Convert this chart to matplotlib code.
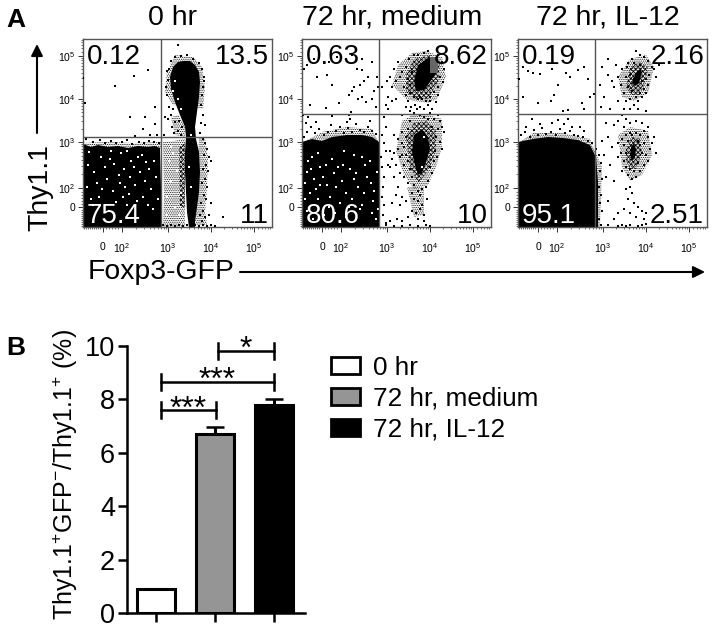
from matplotlib import pyplot as plt
from matplotlib.patches import Polygon, Rectangle, Patch
import numpy as np

plt.rcParams['font.family'] = ['Liberation Sans', 'DejaVu Sans']
plt.rcParams['mathtext.fontset'] = 'custom'
plt.rcParams['mathtext.rm'] = 'Liberation Sans'
plt.rcParams['mathtext.default'] = 'regular'
plt.rcParams['hatch.linewidth'] = 0.5

W, H = 714, 628

# flow plots, values are display channels
titles = ["0 hr", "72 hr, medium", "72 hr, IL-12"]
tick_channels = [20, 39, 85, 128, 171]
tick_names = ["0", "$10^{2}$", "$10^{3}$", "$10^{4}$", "$10^{5}$"]
gate_x = [78, 77, 77]
gate_y = [90, 113, 113]

pct_ul = ["0.12", "0.63", "0.19"]
pct_ur = ["13.5", "8.62", "2.16"]
pct_ll = ["75.4", "80.6", "95.1"]
pct_lr = ["11", "10", "2.51"]

# black cores
dense_0 = [
    [(0,0),(0,83),(8,80),(15,82),(25,80),(35,81),(45,79),(55,81),(65,80),(72,81),(77,79),(78,40),(78,0)],
    [(100,166),(107,166),(112,162),(116,155),(117,145),(116,130),(114,115),(112,100),(113,88),(116,75),(117,55),
     (116,35),(114,20),(112,5),(112,0),(106,0),(104,15),(103,35),(102,55),(102,75),(103,90),(102,100),(97,112),
     (92,125),(88,138),(87,150),(90,160),(95,165)],
]
dense_1 = [
    [(0,0),(0,85),(10,88),(20,86),(30,90),(45,92),(60,92),(70,90),(77,85),(78,50),(78,0)],
    [(112,146),(116,162),(128,170),(136,168),(135,155),(128,145),(122,137),(114,136)],
    [(112,92),(120,98),(126,90),(128,78),(124,65),(120,54),(116,52),(113,62),(110,75)],
]
dense_2 = [
    [(0,0),(0,85),(15,88),(30,90),(45,89),(60,87),(72,82),(78,70),(80,45),(80,0)],
    [(114,144),(117,141),(121,144),(124,155),(122,158),(118,154)],
    [(113,80),(116,84),(118,78),(117,70),(114,66),(112,72)],
]

# heavy crosshatched regions around the cores
heavy_0 = [
    [(96,80),(102,84),(102,20),(97,20)],
]
heavy_1 = [
    [(104,135),(114,128),(126,128),(136,145),(138,165),(128,172),(112,168),(104,152)],
    [(104,90),(112,104),(124,106),(134,96),(134,76),(126,56),(116,44),(108,60)],
]
heavy_2 = [
    [(108,140),(114,132),(122,132),(128,148),(130,160),(122,165),(112,160)],
    [(108,78),(114,90),(122,88),(124,74),(118,58),(112,58),(108,66)],
]

# stippled, less crowded regions
mid_0 = [
    [(80,85),(90,86),(102,88),(102,0),(80,0),(81,30)],
    [(116,90),(122,88),(125,70),(124,40),(122,15),(124,2),(112,2),(114,40)],
    [(96,112),(102,100),(102,90),(92,92),(88,110)],
    [(112,120),(120,118),(122,140),(119,160),(110,170),(92,172),(84,156),(82,135),(90,122)],
    [(0,84),(25,85),(50,84),(78,85),(78,78),(0,78)],
]
mid_1 = [
    [(104,128),(112,126),(126,124),(135,128),(144,150),(140,170),(124,176),(110,174),(96,162),(90,142)],
    [(100,106),(110,112),(126,112),(140,108),(140,80),(134,60),(126,42),(112,38),(102,52),(94,76)],
    [(0,84),(20,95),(45,100),(70,98),(77,84)],
    [(105,40),(122,40),(122,12),(112,10)],
]
mid_2 = [
    [(104,130),(116,126),(130,134),(136,160),(128,172),(112,168),(100,150)],
    [(100,92),(112,100),(130,96),(134,72),(124,52),(112,46),(104,60)],
    [(0,84),(15,94),(45,94),(72,88),(84,60),(82,0),(78,0),(78,70)],
]

dots_0 = [(95,182),(32,141),(51,151),(65,157),(0,149),(2,124),(72,120),(62,110),(47,110),(60,98),(72,103),(52,91),
    (74,92),(67,92),(3,88),(10,85),(17,87),(22,84),(28,86),(33,84),(39,85),(44,87),(49,83),(56,85),(61,84),(66,86),
    (71,85),(76,84),(81,92),(82,110),(83,140),(84,156),(85,147),(84,132),(86,120),(88,112),(90,118),(85,108),(89,100),
    (92,105),(95,96),(91,94),(96,106),(98,92),(99,100),(86,158),(88,166),(92,170),(98,171),(104,172),(110,168),
    (116,164),(119,158),(121,150),(120,140),(119,132),(121,146),(118,122),(120,112),(118,104),(122,102),(117,94),
    (120,88),(122,84),(124,78),(126,70),(121,72),(123,62),(125,56),(128,66),(120,58),(122,48),(124,40),(119,44),
    (121,32),(123,28),(118,24),(120,16),(122,10),(117,12),(119,6),(128,24),(126,12),(140,10),(80,2),(84,1),(88,2),(92,1),
    (96,2),(100,1),(104,2),(108,1),(112,2),(116,1),(120,2),(124,1),(128,2),(132,1)]
specks_0 = [(48,66),(52,42),(22,60),(36,52),(14,44),(60,30),(44,22),(30,36),(66,58),(55,70),(38,74),(18,70),
    (8,28),(26,16),(70,18),(62,46),(42,40),(90,136),(95,128),(92,146),(98,118),(108,92),(106,60),(108,40),
    (5,62),(11,55),(19,38),(27,68),(33,25),(41,58),(46,33),(57,55),(63,65),(68,38),(73,50),(4,40),(10,22),(24,48),
    (31,63),(37,44),(47,50),(54,26),(59,72),(65,22),(71,66),(16,30),(6,75),(28,76),(44,76),(51,60),(75,28),(40,30),
    (84,30),(88,46),(92,20),(86,66),(94,56),(90,74),(98,34),(84,12),(96,12),(88,80)]

dots_1 = [(2,90),(5,95),(9,100),(4,104),(13,94),(17,98),(22,92),(26,95),(29,102),(34,96),(38,100),(42,94),(46,99),(50,95),
    (54,103),(58,97),(62,95),(66,100),(70,96),(74,93),(68,106),(48,108),(45,105),(6,110),(14,105),(1,112),(30,111),(47,112),
    (49,115),(24,119),(8,122),(37,124),(60,130),(56,128),(64,125),(70,128),(74,120),(72,136),(76,140),(50,136),(52,140),
    (47,132),(30,142),(55,158),(60,157),(66,150),(70,165),(60,168),(50,172),(44,168),(35,170),(27,165),(15,150),(25,152),(12,168),
    (5,162),(2,158),(62,146),(58,142),(75,150),(82,110),(84,122),(86,130),(90,140),(88,150),(92,158),(96,165),(85,146),(80,140),
    (94,146),(98,150),(102,140),(100,155),(104,160),(106,148),(108,142),(110,155),(107,168),(112,172),(116,172),(122,174),
    (126,176),(136,172),(140,165),(142,158),(138,150),(141,145),(136,140),(132,135),(128,130),(124,126),(120,128),(116,128),
    (112,130),(108,134),(104,132),(113,122),(118,120),(122,118),(126,122),(130,118),(134,125),(128,114),(112,114),(108,116),
    (104,120),(100,112),(118,112),(122,110),(136,112),(132,108),(138,106),(140,100),(142,95),(136,98),(134,90),(138,85),(140,78),
    (133,76),(135,70),(132,66),(128,60),(130,54),(126,46),(124,40),(120,38),(116,36),(112,42),(110,50),(108,58),(106,66),(104,72),
    (102,80),(100,84),(96,78),(92,74),(88,76),(90,68),(86,62),(94,62),(98,70),(104,90),(106,98),(108,106),(100,95),(102,62),(80,92),
    (82,84),(84,76),(79,70),(80,60),(82,50),(81,40),(80,30),(82,22),(81,12),(84,100),(88,60),(92,50),(96,40),(100,30),(104,26),
    (94,32),(98,22),(90,24),(112,28),(116,26),(118,18),(114,14),(120,22),(122,12),(110,16),(106,10),(100,6),(95,8),(88,6),(84,4),
    (116,8),(122,6),(125,28),(118,32),(110,34),(106,44),(102,50),(98,54),(92,92),(96,88),(100,72),(109,120),(126,108),(130,100),
    (115,118),(106,126),(94,128),(90,126),(86,118),(118,130),(124,134),(128,126),(136,132),(84,2),(92,1),(100,1),(108,2),(116,1),(124,2),(128,1)]
specks_1 = [(5,55),(12,48),(18,60),(25,42),(32,54),(40,46),(48,58),(56,40),(65,50),(72,36),(8,34),(16,28),(28,30),(38,24),
    (50,28),(60,22),(70,14),(5,16),(22,12),(44,10),(74,8),(10,70),(30,68),(52,72),(68,66),(120,60),(122,90),
    (3,44),(9,58),(14,38),(21,50),(27,20),(34,40),(36,60),(44,34),(52,48),(58,18),(62,34),(69,44),(75,55),(3,28),
    (11,8),(18,42),(24,62),(33,14),(41,62),(47,20),(54,54),(63,62),(71,26),(76,18),(6,66),(16,74),(42,76),(60,70)]

dots_2 = [(3,92),(7,95),(12,90),(16,97),(20,92),(24,99),(28,93),(33,95),(38,92),(42,98),(47,94),(52,96),(56,92),(60,91),(65,90),
    (70,86),(74,84),(78,78),(81,72),(83,64),(82,56),(84,48),(81,40),(83,32),(82,24),(84,16),(81,8),(83,2),(14,108),(22,103),(34,104),
    (40,107),(46,103),(50,108),(54,100),(8,100),(4,84),(62,100),(66,96),(1,148),(5,160),(10,156),(15,154),(22,153),(34,158),(40,142),
    (36,132),(33,126),(5,130),(20,124),(48,154),(52,150),(60,157),(66,160),(70,148),(72,130),(64,124),(66,118),(45,116),(50,117),
    (76,133),(84,160),(82,142),(86,130),(83,120),(90,168),(98,162),(94,146),(100,150),(104,158),(103,142),(106,134),(108,150),
    (109,160),(110,140),(112,128),(108,126),(106,118),(112,118),(116,122),(120,126),(124,130),(128,134),(130,142),(131,152),(134,160),
    (130,166),(126,170),(122,172),(118,176),(114,168),(110,164),(112,152),(114,136),(118,130),(122,134),(126,138),(128,148),(116,148),
    (120,150),(122,162),(116,164),(124,146),(120,118),(128,116),(138,150),(141,162),(136,158),(90,152),(96,140),(100,126),(104,112),
    (108,108),(92,118),(88,104),(96,102),(100,106),(106,100),(112,104),(118,106),(124,104),(130,100),(126,96),(122,92),(118,94),(112,94),
    (108,92),(104,88),(100,84),(106,82),(103,74),(100,70),(106,66),(108,60),(104,56),(110,52),(114,48),(118,50),(122,56),(126,62),(130,66),
    (128,72),(132,78),(134,84),(136,90),(130,90),(126,84),(122,82),(124,74),(120,64),(116,56),(112,58),(108,74),(110,86),(114,92),(120,86),
    (90,90),(86,72),(92,62),(88,50),(96,46),(112,40),(108,38),(114,34),(110,28),(116,24),(106,18),(120,20),(124,16),(128,14),(112,14),
    (118,10),(126,8),(100,14),(96,8),(90,2),(100,1),(104,2),(108,1),(112,2),(120,1),(124,2),(128,3),(90,26),(84,86),(94,80),(138,74)]
specks_2 = []

panel_dense = [dense_0, dense_1, dense_2]
panel_heavy = [heavy_0, heavy_1, heavy_2]
panel_mid = [mid_0, mid_1, mid_2]
panel_dots = [dots_0, dots_1, dots_2]
panel_specks = [specks_0, specks_1, specks_2]
panel_left = [83, 302, 518]

# bar plot values
groups = ["0 hr", "72 hr, medium", "72 hr, IL-12"]
means = [0.91, 6.72, 7.78]
errs = [0.0, 0.25, 0.22]
bar_colors = ["white", "#959595", "black"]
brackets = [(0.08, 1.02, 7.6, "***"), (0.08, 2.0, 8.67, "***"), (1.05, 2.0, 9.83, "*")]


def axes_px(fig, left, top, right, bottom):
    return fig.add_axes([left / W, 1 - bottom / H, (right - left) / W, (bottom - top) / H])


def minor_channels():
    decades = np.array([2, 3, 4, 5])
    pos = np.array([39, 85, 128, 171])
    out = []
    for d in decades[:-1]:
        for k in range(2, 10):
            out.append(np.interp(d + np.log10(k), decades, pos))
    out += [175, 179, 182, 185, 187]
    out += [1, 3, 5, 7, 9, 11, 13, 15, 17, 23, 26, 29, 32, 35]
    return out


fig = plt.figure(figsize=(W / 100, H / 100), dpi=100)

for i in range(3):
    ax = axes_px(fig, panel_left[i], 39, panel_left[i] + 189, 227)
    ax.set_xlim(0, 189)
    ax.set_ylim(0, 188)
    for poly in panel_mid[i]:
        ax.add_patch(Polygon(poly, closed=True, fc="none", ec="black", hatch="." * 9, lw=0, zorder=1))
    for poly in panel_heavy[i]:
        ax.add_patch(Polygon(poly, closed=True, fc="none", ec="black", hatch="x" * 7, lw=0, zorder=1.5))
    for poly in panel_dense[i]:
        ax.add_patch(Polygon(poly, closed=True, fc="black", ec="none", zorder=2))
    if i == 1:
        ax.add_patch(Rectangle((128, 154), 8, 16, fc="#666666", ec="none", zorder=2.6))
    d = np.array(panel_dots[i])
    ax.scatter(d[:, 0], d[:, 1], s=1.6, c="black", marker="s", linewidths=0, zorder=3)
    if panel_specks[i]:
        s = np.array(panel_specks[i])
        ax.scatter(s[:, 0], s[:, 1], s=2.0, c="white", marker="s", linewidths=0, zorder=3)
    ax.axvline(gate_x[i], color="#555555", lw=1, zorder=4)
    ax.axhline(gate_y[i], color="#555555", lw=1, zorder=4)
    for sp in ax.spines.values():
        sp.set_color("#555555")
        sp.set_linewidth(1)
    ax.set_xticks(tick_channels)
    ax.set_xticklabels(tick_names)
    ax.set_yticks(tick_channels)
    ax.set_yticklabels(tick_names)
    ax.set_xticks(minor_channels(), minor=True)
    ax.set_yticks(minor_channels(), minor=True)
    ax.tick_params(which="major", length=3.5, width=0.7, labelsize=7.5, color="#333333", pad=2)
    ax.tick_params(axis="x", which="major", pad=7)
    ax.tick_params(which="minor", length=1.7, width=0.5, color="#333333")
    ax.text(4, 170, pct_ul[i], fontsize=20, va="center", ha="left", zorder=5)
    ax.text(186, 170, pct_ur[i], fontsize=20, va="center", ha="right", zorder=5)
    ax.text(4, 11, pct_ll[i], fontsize=20, va="center", ha="left", color="white", zorder=5)
    ax.text(186, 11, pct_lr[i], fontsize=20, va="center", ha="right", zorder=5)
    fig.text((panel_left[i] + 90) / W, 1 - 18 / H, titles[i], fontsize=20.5, ha="center", va="center")

fig.text(6 / W, 1 - 20 / H, "A", fontsize=19, fontweight="bold", va="center")
fig.text(6 / W, 1 - 348 / H, "B", fontsize=19, fontweight="bold", va="center")
fig.text(40 / W, 1 - 188 / H, "Thy1.1", fontsize=20.5, rotation=90, ha="center", va="center")
fig.text(88 / W, 1 - 272 / H, "Foxp3-GFP", fontsize=20.4, ha="left", va="center")

arrow_ax = fig.add_axes([0, 0, 1, 1])
arrow_ax.set_axis_off()
arrow_ax.set_xlim(0, W)
arrow_ax.set_ylim(H, 0)
arrow_ax.annotate("", xy=(37, 44), xytext=(37, 133),
                  arrowprops=dict(arrowstyle="-|>,head_length=0.7,head_width=0.35", lw=1.5, color="black", shrinkA=0, shrinkB=0))
arrow_ax.annotate("", xy=(705, 272), xytext=(240, 272),
                  arrowprops=dict(arrowstyle="-|>,head_length=0.7,head_width=0.35", lw=1.5, color="black", shrinkA=0, shrinkB=0))

# panel B
bx = axes_px(fig, 127, 346, 305, 613)
x = np.arange(3)
bx.bar(x, means, width=0.64, color=bar_colors, edgecolor="black", linewidth=2.2, zorder=2)
bx.errorbar(x[1:], means[1:], yerr=[[0, 0], errs[1:]], fmt="none", ecolor="black", elinewidth=2.2, capsize=6.5, capthick=1.8, zorder=1)
bx.set_xlim(-0.49, 2.53)
bx.set_ylim(0, 10)
bx.set_yticks([0, 2, 4, 6, 8, 10])
bx.set_xticks(x)
bx.set_xticklabels([])
bx.spines["top"].set_visible(False)
bx.spines["right"].set_visible(False)
bx.spines["left"].set_linewidth(1.8)
bx.spines["bottom"].set_linewidth(1.8)
bx.tick_params(width=1.8, length=6.5, labelsize=19.5, pad=2)
fig.text(65 / W, 1 - 474 / H, "Thy1.1$^{+}$GFP$^{\\mathrm{-}}$/Thy1.1$^{+}$ (%)", fontsize=18, rotation=90, ha="center", va="center")
for x0, x1, y0, star in brackets:
    bx.plot([x0, x1], [y0, y0], color="black", lw=1.8, clip_on=False)
    bx.plot([x0, x0], [y0 - 0.3, y0 + 0.3], color="black", lw=1.8, clip_on=False)
    bx.plot([x1, x1], [y0 - 0.3, y0 + 0.3], color="black", lw=1.8, clip_on=False)
    bx.text((x0 + x1) / 2, y0 + 0.02, star, fontsize=23, ha="center", va="center", clip_on=False)

handles = [Patch(facecolor=c, edgecolor="black", linewidth=2) for c in bar_colors]
fig.legend(handles, groups, loc="upper left", bbox_to_anchor=(331 / W, 1 - 356 / H), frameon=False, fontsize=18.8,
           handlelength=1.1, handleheight=0.62, labelspacing=0.26, handletextpad=0.5, borderpad=0, borderaxespad=0)

fig.savefig("out.png", dpi=100)
